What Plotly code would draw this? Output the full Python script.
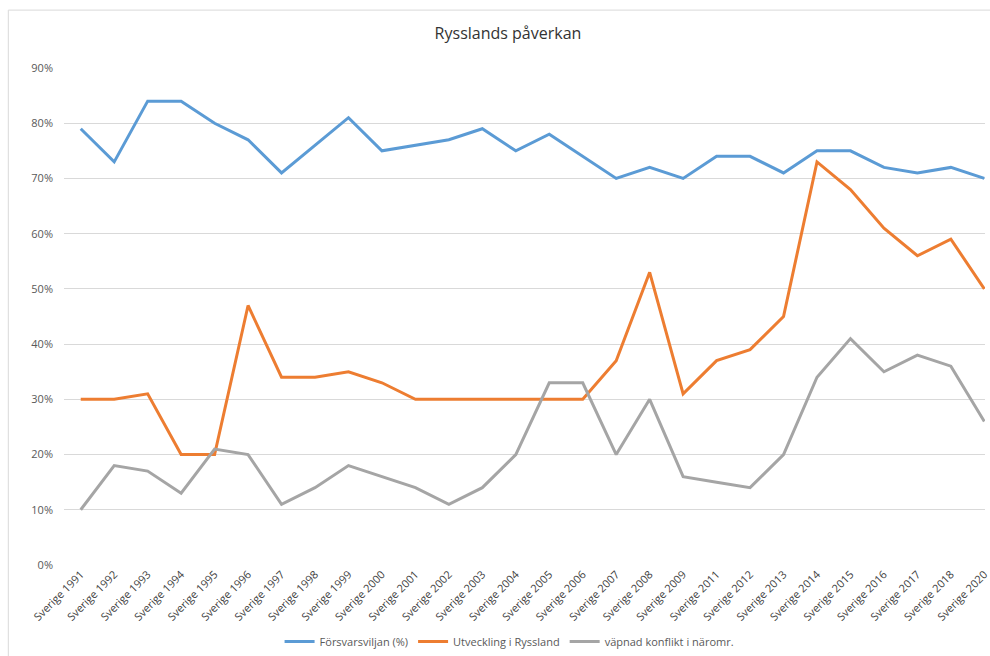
import plotly.graph_objects as go

categories = ["Sverige 1991", "Sverige 1992", "Sverige 1993", "Sverige 1994", "Sverige 1995",
              "Sverige 1996", "Sverige 1997", "Sverige 1998", "Sverige 1999", "Sverige 2000",
              "Sverige 2001", "Sverige 2002", "Sverige 2003", "Sverige 2004", "Sverige 2005",
              "Sverige 2006", "Sverige 2007", "Sverige 2008", "Sverige 2009", "Sverige 2011",
              "Sverige 2012", "Sverige 2013", "Sverige 2014", "Sverige 2015", "Sverige 2016",
              "Sverige 2017", "Sverige 2018", "Sverige 2020"]

forsvarsviljan = [79, 73, 84, 84, 80, 77, 71, 76, 81, 75, 76, 77, 79, 75, 78, 74, 70, 72, 70,
                  74, 74, 71, 75, 75, 72, 71, 72, 70]
utveckling = [30, 30, 31, 20, 20, 47, 34, 34, 35, 33, 30, 30, 30, 30, 30, 30, 37, 53, 31,
              37, 39, 45, 73, 68, 61, 56, 59, 50]
vapnad = [10, 18, 17, 13, 21, 20, 11, 14, 18, 16, 14, 11, 14, 20, 33, 33, 20, 30, 16,
          15, 14, 20, 34, 41, 35, 38, 36, 26]

series_names = ["Försvarsviljan (%)", "Utveckling i Ryssland", "väpnad konflikt i näromr."]
series_values = [forsvarsviljan, utveckling, vapnad]
series_colors = ["#5B9BD5", "#ED7D31", "#A5A5A5"]

y_ticks = [0, 10, 20, 30, 40, 50, 60, 70, 80, 90]

fig = go.Figure()
for name, vals, col in zip(series_names, series_values, series_colors):
    fig.add_trace(go.Scatter(
        x=list(range(len(categories))), y=[v / 100 for v in vals], name=name,
        mode="lines", line=dict(color=col, width=3), hoverinfo="skip"))

W, H = 990, 656
L, R, T, B = 64, 0, 68, 90
pw, ph = W - L - R, H - T - B

fig.update_layout(
    width=W, height=H,
    margin=dict(l=L, r=R, t=T, b=B),
    paper_bgcolor="white", plot_bgcolor="white",
    font=dict(family="Open Sans, Liberation Sans, sans-serif", color="#595959", size=11),
    title=dict(text="Rysslands påverkan", x=508 / W, xanchor="center", xref="container",
               y=1 - 33 / H, yanchor="middle", yref="container",
               font=dict(size=16, color="#333333", family="Open Sans, sans-serif")),
    xaxis=dict(
        tickmode="array", tickvals=list(range(len(categories))), ticktext=categories,
        range=[-0.5, len(categories) - 1 + 0.02], tickangle=-45,
        showgrid=False, zeroline=False, showline=False, ticks="",
        ticklabeloverflow="allow",
        tickfont=dict(size=11, color="#404040"),
    ),
    yaxis=dict(
        range=[0, 0.9], tickvals=[t / 100 for t in y_ticks],
        ticktext=[f"{t}%" for t in y_ticks],
        showgrid=True, gridcolor="#D9D9D9", gridwidth=1, zeroline=False,
        showline=False, ticks="", ticklabelstandoff=10,
        tickfont=dict(size=11, color="#595959"),
    ),
    legend=dict(orientation="h", x=(512 - L) / pw, xanchor="center", y=-(643 - 566) / ph,
                yanchor="middle", font=dict(size=11, color="#595959"),
                itemwidth=30, tracegroupgap=0, bgcolor="rgba(0,0,0,0)"),
    shapes=[dict(type="rect", xref="paper", yref="paper",
                 x0=(8 - L) / pw, x1=(1006 - L) / pw, y0=-(H + 10 - 566) / ph, y1=(566 - 10) / ph,
                 line=dict(color="#D9D9D9", width=1), layer="below")],
)

fig.write_html("out.html", config={"displayModeBar": False},
               post_script="document.body.style.margin='0';document.body.style.overflow='hidden';")
